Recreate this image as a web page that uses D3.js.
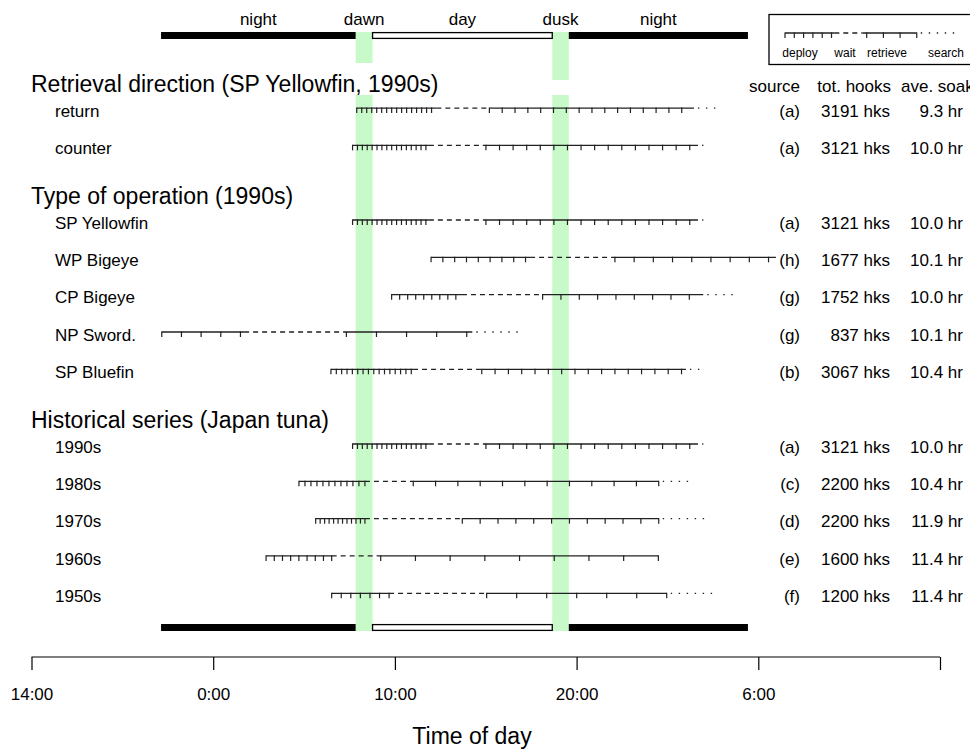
<!DOCTYPE html>
<html>
<head>
<meta charset="utf-8">
<script src="https://cdn.jsdelivr.net/npm/d3@7"></script>
<style>
  body { margin: 0; background: #fff; }
  svg { font-family: Arial, "Liberation Sans", Helvetica, sans-serif; }
</style>
</head>
<body>
<div id="chart"></div>
<script>
// times are clock hours on one running scale: 14 = 14:00, 24 = 0:00, 34 = 10:00, 44 = 20:00, 54 = 6:00
var rowLabels = ["return", "counter", "SP Yellowfin", "WP Bigeye", "CP Bigeye", "NP Sword.", "SP Bluefin",
                 "1990s", "1980s", "1970s", "1960s", "1950s"];
var rowSlots = [1, 2, 4, 5, 6, 7, 8, 10, 11, 12, 13, 14];
var sources = ["(a)", "(a)", "(a)", "(h)", "(g)", "(g)", "(b)", "(a)", "(c)", "(d)", "(e)", "(f)"];
var hooks = [3191, 3121, 3121, 1677, 1752, 837, 3067, 3121, 2200, 2200, 1600, 1200];
var soak = [9.3, 10.0, 10.0, 10.1, 10.0, 10.1, 10.4, 10.0, 10.4, 11.9, 11.4, 11.4];
var deployStart   = [31.90, 31.67, 31.67, 35.99, 33.82, 21.17, 30.48, 31.67, 28.72, 29.64, 26.91, 30.52];
var deployEnd     = [36.28, 35.87, 35.87, 41.44, 37.69, 25.70, 35.00, 35.87, 32.35, 32.35, 30.52, 33.68];
var retrieveStart = [39.20, 39.01, 39.01, 46.11, 42.13, 31.33, 38.78, 39.01, 35.01, 37.71, 33.22, 39.05];
var retrieveEnd   = [50.46, 50.68, 50.68, 54.97, 50.97, 38.26, 50.02, 50.68, 48.52, 48.52, 48.50, 48.96];
var searchEnd     = [51.71, 51.18, 51.18, null,  52.90, 40.88, 50.79, 51.18, 50.33, 51.07, null,  51.71];

var groupTitles = ["Retrieval direction (SP Yellowfin, 1990s)", "Type of operation (1990s)", "Historical series (Japan tuna)"];
var groupSlots = [0, 3, 9];
var columnHeads = ["source", "tot. hooks", "ave. soak"];

var phaseNames = ["night", "dawn", "day", "dusk", "night"];
var phaseBounds = [21.13, 31.84, 32.77, 42.66, 43.57, 53.43];

var axisTicks = [14, 24, 34, 44, 54, 64];
var axisTickLabels = ["14:00", "0:00", "10:00", "20:00", "6:00", ""];
var hooksPerTick = 200;

var legendNames = ["deploy", "wait", "retrieve", "search"];
var legendTicks = [6, 0, 4, 0];

var width = 970, height = 751;
var green = "#c8f9c8", ink = "#222";

var svg = d3.select("#chart").append("svg")
    .attr("width", width)
    .attr("height", height);

var x = d3.scaleLinear().domain([14, 64]).range([31.5, 940]);
var y = d3.scaleLinear().domain([0, 14]).range([70.7, 593.3]);

var barTop = 32, barBot = 39, lowTop = 624, lowBot = 631;

// twilight bands: small pieces up by the day bar, long ones behind the rows
var bands = [[phaseBounds[1], phaseBounds[2], 63], [phaseBounds[3], phaseBounds[4], 80]];
bands.forEach(function(b) {
  svg.append("rect").attr("x", x(b[0])).attr("width", x(b[1]) - x(b[0]))
    .attr("y", barTop).attr("height", b[2] - barTop).attr("fill", green);
  svg.append("rect").attr("x", x(b[0])).attr("width", x(b[1]) - x(b[0]))
    .attr("y", 95).attr("height", lowBot - 95).attr("fill", green);
});

// night / day bars, top and bottom
function dayBar(top, bot) {
  svg.append("rect").attr("x", x(phaseBounds[0])).attr("y", top)
    .attr("width", x(phaseBounds[1]) - x(phaseBounds[0])).attr("height", bot - top).attr("fill", "#000");
  svg.append("rect").attr("x", x(phaseBounds[4])).attr("y", top)
    .attr("width", x(phaseBounds[5]) - x(phaseBounds[4])).attr("height", bot - top).attr("fill", "#000");
  svg.append("rect").attr("x", x(phaseBounds[2])).attr("y", top + 0.6)
    .attr("width", x(phaseBounds[3]) - x(phaseBounds[2])).attr("height", bot - top - 1.2)
    .attr("fill", "#fff").attr("stroke", "#000").attr("stroke-width", 1.3);
}
dayBar(barTop, barBot);
dayBar(lowTop, lowBot);

svg.selectAll(".phase").data(phaseNames).enter().append("text")
  .attr("class", "phase")
  .attr("x", function(d, i) { return x((phaseBounds[i] + phaseBounds[i + 1]) / 2); })
  .attr("y", 25)
  .attr("text-anchor", "middle")
  .attr("font-size", 17)
  .text(function(d) { return d; });

// one longline set: deploy, wait, retrieve, search
function drawSet(g, ly, x0, x1, x2, x3, x4, nDeploy, nRetrieve) {
  g.append("line").attr("x1", x0).attr("x2", x1).attr("y1", ly).attr("y2", ly)
    .attr("stroke", ink).attr("stroke-width", 1.3);
  g.append("line").attr("x1", x1).attr("x2", x2).attr("y1", ly).attr("y2", ly)
    .attr("stroke", ink).attr("stroke-width", 1.3).attr("stroke-dasharray", "5,4");
  g.append("line").attr("x1", x2).attr("x2", x3).attr("y1", ly).attr("y2", ly)
    .attr("stroke", ink).attr("stroke-width", 1.3);
  if (x4 != null) {
    g.append("line").attr("x1", x3 + 4).attr("x2", x4).attr("y1", ly).attr("y2", ly)
      .attr("stroke", ink).attr("stroke-width", 1.3).attr("stroke-dasharray", "1.4,6.6");
  }
  var tk = nDeploy.map(function(f) { return x0 + f * (x1 - x0); })
    .concat(nRetrieve.map(function(f) { return x2 + f * (x3 - x2); }));
  g.selectAll(".tk").data(tk).enter().append("line")
    .attr("x1", function(d) { return d; }).attr("x2", function(d) { return d; })
    .attr("y1", ly - 0.6).attr("y2", ly + 5)
    .attr("stroke", ink).attr("stroke-width", 1.2);
}

function tickFractions(n) {
  return d3.range(0, n + 1, hooksPerTick).map(function(h) { return h / n; });
}

rowLabels.forEach(function(lab, i) {
  var ly = y(rowSlots[i]);
  var g = svg.append("g");
  var fr = tickFractions(hooks[i]);
  drawSet(g, ly, x(deployStart[i]), x(deployEnd[i]), x(retrieveStart[i]), x(retrieveEnd[i]),
          searchEnd[i] == null ? null : x(searchEnd[i]), fr, fr);
  g.append("text").attr("x", 55).attr("y", ly + 8.6).attr("font-size", 17).text(lab);
  g.append("text").attr("x", 800).attr("y", ly + 8.6).attr("font-size", 17)
    .attr("text-anchor", "end").text(sources[i]);
  g.append("text").attr("x", 890).attr("y", ly + 8.6).attr("font-size", 17)
    .attr("text-anchor", "end").text(hooks[i] + " hks");
  g.append("text").attr("x", 963).attr("y", ly + 8.6).attr("font-size", 17)
    .attr("text-anchor", "end").text(d3.format(".1f")(soak[i]) + " hr");
});

svg.selectAll(".group").data(groupTitles).enter().append("text")
  .attr("class", "group")
  .attr("x", 31)
  .attr("y", function(d, i) { return y(groupSlots[i]) + 21.3; })
  .attr("font-size", 23)
  .text(function(d) { return d; });

svg.selectAll(".colhead").data(columnHeads).enter().append("text")
  .attr("class", "colhead")
  .attr("x", function(d, i) { return [800, 891, 901][i]; })
  .attr("y", y(0) + 21)
  .attr("text-anchor", function(d, i) { return i < 2 ? "end" : "start"; })
  .attr("font-size", 17)
  .text(function(d) { return d; });

// legend box, cut by the right edge
var lg = svg.append("g");
lg.append("rect").attr("x", 769).attr("y", 14.5).attr("width", 230).attr("height", 50)
  .attr("fill", "none").attr("stroke", "#000").attr("stroke-width", 1.3);
var lx = d3.scaleLinear().domain([0, 1]).range([785, 955]);
var legendCuts = [0, 0.29, 0.455, 0.775, 1];
function evenly(n) { return d3.range(n).map(function(k) { return k / (n - 0.7); }); }
drawSet(lg, 33, lx(legendCuts[0]), lx(legendCuts[1]), lx(legendCuts[2]), lx(legendCuts[3]), lx(legendCuts[4]),
        evenly(legendTicks[0]), d3.range(legendTicks[2]).map(function(k) { return 0.08 + k * 0.92 / (legendTicks[2] - 1); }));
lg.selectAll(".ln").data(legendNames).enter().append("text")
  .attr("x", function(d, i) { return [800, 845, 887, 946][i]; })
  .attr("y", 57)
  .attr("text-anchor", "middle")
  .attr("font-size", 12)
  .text(function(d) { return d; });

// time axis
var axisY = 657;
var axis = d3.axisBottom(x).tickValues(axisTicks)
  .tickFormat(function(d, i) { return axisTickLabels[i]; })
  .tickSize(13).tickPadding(18);
var ag = svg.append("g").attr("transform", "translate(0," + axisY + ")").call(axis);
ag.select(".domain").attr("d", "M" + x(14) + ",0H" + x(64)).attr("stroke", "#000").attr("stroke-width", 1.2);
ag.selectAll(".tick line").attr("stroke", "#000").attr("stroke-width", 1.2);
ag.selectAll(".tick text").attr("font-size", 17).attr("fill", "#000")
  .attr("font-family", "Arial, 'Liberation Sans', sans-serif");

svg.append("text").attr("x", 472).attr("y", 744).attr("text-anchor", "middle")
  .attr("font-size", 23).text("Time of day");
</script>
</body>
</html>
